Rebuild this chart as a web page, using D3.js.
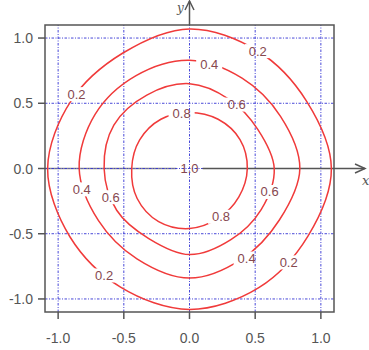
<!DOCTYPE html>
<html>
<head>
<meta charset="utf-8">
<script src="https://cdn.jsdelivr.net/npm/d3@7"></script>
<style>
  html, body { margin: 0; padding: 0; background: #fff; }
  svg { display: block; }
</style>
</head>
<body>
<div id="chart"></div>
<script>
// contour radius (data units), every 30 degrees from the +x axis, anticlockwise
const angles = [0, 30, 60, 90, 120, 150, 180, 210, 240, 270, 300, 330];
const radius02 = [1.08, 1.03, 1.04, 1.07, 1.02, 1.04, 1.08, 1.05, 1.05, 1.08, 1.055, 1.04];
const radius04 = [0.84, 0.80, 0.80, 0.83, 0.82, 0.83, 0.84, 0.80, 0.80, 0.84, 0.80, 0.79];
const radius06 = [0.645, 0.60, 0.61, 0.65, 0.65, 0.665, 0.65, 0.64, 0.62, 0.66, 0.63, 0.63];
const radius08 = [0.44, 0.444, 0.436, 0.43, 0.436, 0.438, 0.44, 0.46, 0.47, 0.46, 0.44, 0.434];
const contourRadii = [radius02, radius04, radius06, radius08];

// contour labels
const labelText = ["0.2", "0.2", "0.2", "0.2", "0.4", "0.4", "0.4", "0.6", "0.6", "0.6", "0.8", "0.8", "1.0"];
const labelX = [-0.86, 0.52, -0.65, 0.755, 0.15, -0.82, 0.435, 0.36, -0.60, 0.61, -0.06, 0.24, 0];
const labelY = [0.57, 0.90, -0.82, -0.72, 0.80, -0.16, -0.69, 0.49, -0.22, -0.18, 0.42, -0.37, 0];

const tickValues = [-1.0, -0.5, 0.0, 0.5, 1.0];
const tickLabels = ["-1.0", "-0.5", "0.0", "0.5", "1.0"];

const width = 369, height = 350;
const grey = "#555555";
const red = "#f03a3a";
const labelColor = "#86484f";
const gridBlue = "#3434d4";

const x = d3.scaleLinear().domain([-1.1, 1.1]).range([45, 334]);
const y = d3.scaleLinear().domain([-1.1, 1.1]).range([312, 25]);

const svg = d3.select("#chart")
    .append("svg")
    .attr("width", width)
    .attr("height", height)
    .style("font-family", "'Liberation Sans', Arial, sans-serif");

const mask = svg.append("defs").append("mask").attr("id", "gaps").attr("maskUnits", "userSpaceOnUse")
    .attr("x", 0).attr("y", 0).attr("width", width).attr("height", height);
mask.append("rect")
    .attr("width", width)
    .attr("height", height)
    .attr("fill", "white");

// x axis, left part sits under the grid
svg.append("line")
    .attr("x1", x(-1.1)).attr("x2", x(0))
    .attr("y1", y(0)).attr("y2", y(0))
    .attr("stroke", "#8a8a8a")
    .attr("stroke-width", 1.5)
    .attr("mask", "url(#gaps)");

// grid
const grid = svg.append("g")
    .attr("stroke", gridBlue)
    .attr("stroke-width", 1)
    .attr("stroke-dasharray", "2.5,1.5,1,1.5")
    .attr("opacity", 0.9);
grid.selectAll("line.v")
    .data(tickValues)
    .join("line")
    .attr("class", "v")
    .attr("x1", d => x(d)).attr("x2", d => x(d))
    .attr("y1", y(-1.1)).attr("y2", y(1.1));
grid.selectAll("line.h")
    .data(tickValues)
    .join("line")
    .attr("class", "h")
    .attr("x1", x(-1.1)).attr("x2", x(1.1))
    .attr("y1", d => y(d)).attr("y2", d => y(d));

// x axis arrow from the origin
svg.append("line")
    .attr("x1", x(0)).attr("x2", 365)
    .attr("y1", y(0)).attr("y2", y(0))
    .attr("stroke", grey)
    .attr("stroke-width", 1.5)
    .attr("mask", "url(#gaps)");
svg.append("path")
    .attr("d", `M355,${y(0) - 4.5}L365,${y(0)}L355,${y(0) + 4.5}`)
    .attr("fill", "none")
    .attr("stroke", grey)
    .attr("stroke-width", 1.5);

// y axis arrow above the box
svg.append("line")
    .attr("x1", x(0)).attr("x2", x(0))
    .attr("y1", y(1.1)).attr("y2", 1)
    .attr("stroke", grey)
    .attr("stroke-width", 1.5);
svg.append("path")
    .attr("d", `M${x(0) - 4.5},10L${x(0)},1L${x(0) + 4.5},10`)
    .attr("fill", "none")
    .attr("stroke", grey)
    .attr("stroke-width", 1.5);

svg.append("text")
    .attr("x", 362).attr("y", 185)
    .style("font-family", "'DejaVu Serif', serif")
    .style("font-style", "italic")
    .style("font-size", "13px")
    .attr("fill", grey)
    .text("x");
svg.append("text")
    .attr("x", 177).attr("y", 12)
    .style("font-family", "'DejaVu Serif', serif")
    .style("font-style", "italic")
    .style("font-size", "12px")
    .attr("fill", grey)
    .text("y");

// contour lines
const line = d3.line()
    .x(d => x(d[0]))
    .y(d => y(d[1]))
    .curve(d3.curveCatmullRomClosed.alpha(0.5));

const toPoints = radii => radii.map((r, i) => {
    const a = angles[i] * Math.PI / 180;
    return [r * Math.cos(a), r * Math.sin(a)];
});

svg.append("g")
    .attr("mask", "url(#gaps)")
    .selectAll("path")
    .data(contourRadii)
    .join("path")
    .attr("d", d => line(toPoints(d)))
    .attr("fill", "none")
    .attr("stroke", red)
    .attr("stroke-width", 1.5);

// labels, with a gap cut in the lines behind each one
const labels = svg.append("g")
    .selectAll("text")
    .data(labelText)
    .join("text")
    .attr("x", (d, i) => x(labelX[i]))
    .attr("y", (d, i) => y(labelY[i]))
    .attr("text-anchor", "middle")
    .attr("dominant-baseline", "central")
    .style("font-size", "13px")
    .attr("fill", labelColor)
    .text(d => d);

labels.each(function (d, i) {
    const w = this.getComputedTextLength();
    mask.append("rect")
        .attr("x", x(labelX[i]) - w / 2 - 4)
        .attr("y", y(labelY[i]) - 7)
        .attr("width", w + 8)
        .attr("height", 14)
        .attr("fill", "black");
});

// box
svg.append("rect")
    .attr("x", x(-1.1))
    .attr("y", y(1.1))
    .attr("width", x(1.1) - x(-1.1))
    .attr("height", y(-1.1) - y(1.1))
    .attr("fill", "none")
    .attr("stroke", grey)
    .attr("stroke-width", 1.5);

// ticks and tick labels
svg.append("g")
    .selectAll("line")
    .data(tickValues)
    .join("line")
    .attr("x1", 38).attr("x2", x(-1.1))
    .attr("y1", d => y(d)).attr("y2", d => y(d))
    .attr("stroke", grey)
    .attr("stroke-width", 1.5);
svg.append("g")
    .selectAll("line")
    .data(tickValues)
    .join("line")
    .attr("x1", d => x(d)).attr("x2", d => x(d))
    .attr("y1", y(-1.1)).attr("y2", 319)
    .attr("stroke", grey)
    .attr("stroke-width", 1.5);

svg.append("g")
    .selectAll("text")
    .data(tickValues)
    .join("text")
    .attr("x", 33)
    .attr("y", d => y(d))
    .attr("text-anchor", "end")
    .attr("dominant-baseline", "central")
    .style("font-size", "14px")
    .attr("fill", grey)
    .text((d, i) => tickLabels[i]);
svg.append("g")
    .selectAll("text")
    .data(tickValues)
    .join("text")
    .attr("x", d => x(d))
    .attr("y", 343)
    .attr("text-anchor", "middle")
    .style("font-size", "14px")
    .attr("fill", grey)
    .text((d, i) => tickLabels[i]);
</script>
</body>
</html>
